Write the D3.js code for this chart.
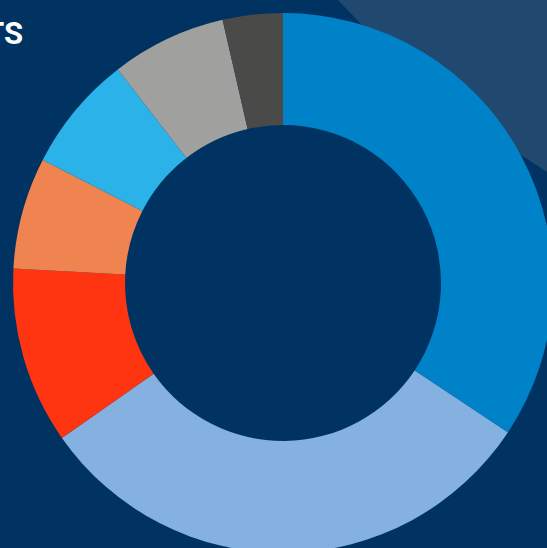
<!DOCTYPE html>
<html>
<head>
<meta charset="utf-8">
<script src="https://cdn.jsdelivr.net/npm/d3@7"></script>
<style>
    html, body { margin: 0; padding: 0; background: #003361; overflow: hidden; }
    svg { display: block; }
</style>
</head>
<body>
<svg id="donut_chart" width="547" height="548"></svg>
<script>
// slice values (share of the ring, clockwise from 12 o'clock)
var categories = ["Segment 1", "Segment 2", "Segment 3", "Segment 4", "Segment 5", "Segment 6", "Segment 7"];
var values = [34.4, 31.0, 10.6, 6.7, 7.0, 6.9, 3.6];
var colors = ["#0082c8", "#84b1e0", "#ff3512", "#f08450", "#2bb2e8", "#a0a09e", "#4a4a49"];
var titleText = "TS";

function build_donut_chart() {
    var svg = d3.select("#donut_chart");
    var svg_width = +svg.attr("width");
    var svg_height = +svg.attr("height");

    svg.append("rect")
        .attr("width", svg_width)
        .attr("height", svg_height)
        .attr("fill", "#003361");

    // lighter diagonal band in the top right corner
    svg.append("path")
        .attr("d", "M338,0 L547,0 L547,172 L428,94 Z")
        .attr("fill", "#21496f");

    svg.append("text")
        .attr("x", 23)
        .attr("y", 44)
        .attr("text-anchor", "end")
        .attr("fill", "white")
        .style("font-family", "Roboto, 'Open Sans', sans-serif")
        .style("font-weight", "bold")
        .style("font-size", "31px")
        .text(titleText);

    const center = {x: 283, y: 283};
    const outerRadius = 270;
    const innerRadius = 158;

    var data = categories.map((c, i) => ({category: c, value: values[i], color: colors[i]}));

    var pie = d3.pie()
        .value(d => d.value)
        .sort(null);

    var arc = d3.arc()
        .innerRadius(innerRadius)
        .outerRadius(outerRadius);

    var ring = svg.append("g")
        .attr("transform", "translate(" + center.x + "," + center.y + ")");

    ring.selectAll("path.slice")
        .data(pie(data))
        .join("path")
        .classed("slice", true)
        .attr("d", arc)
        .attr("fill", d => d.data.color);
}

build_donut_chart();
</script>
</body>
</html>
